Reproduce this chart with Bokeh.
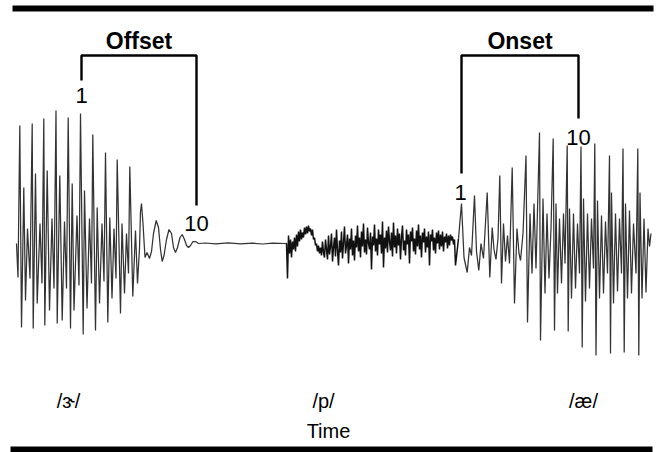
import numpy as np
from bokeh.plotting import figure
from bokeh.models import Range1d, Label, BoxAnnotation
from bokeh.embed import file_html
from bokeh.resources import INLINE

# ---- waveform data (time in px-like units, amplitude relative to baseline) ----
# vowel /ɝ/ with offset decay
vowel1_t = [16, 17.5, 19.3, 21, 23.3, 25, 27, 29.5,
            31.7, 32.7, 35, 36.7, 39.5, 41.5,
            43.3, 44.3, 46.7, 49, 51.5, 53.5,
            55.5, 56.7, 59.3, 61.7, 64, 66,
            67.7, 70, 71.7, 73.5, 76.5, 78.5,
            80, 82.7, 84, 86.5, 89, 91,
            92.3, 95, 96.7, 99, 101.5, 103.5,
            105, 107.3, 109.3, 111.5, 113.5, 115.5,
            116.7, 120, 121.5, 124, 126, 128,
            129.3, 132.3, 135, 137, 139,
            140, 141, 142.5, 144.5, 146.5, 149, 151, 153, 155.7, 158, 160, 161.7,
            163.5, 166, 168.5, 171, 173, 175, 177, 179.5, 181.7, 184, 186, 188,
            190, 192.5, 195, 198]
vowel1_a = [0, -34, 118, -84, 56, -57, 15, -35,
            120, -85, 70, -60, 20, -40,
            125, -82, 73, -67, 25, -45,
            133, -80, 68, -77, 22, -45,
            126, -85, 60, -67, 28, -42,
            130, -91, 53, -65, 25, -40,
            109, -87, 36, -60, 20, -38,
            91, -79, 26, -55, 15, -35,
            84, -70, 20, -50, 10, -30,
            77, -53, 13, -40, -5,
            32, 40, 20, -14, -9, -15, -8, 10, 23, 16, -6, -18,
            -12, 4, 14, 10, -4, -9, -4, 6, 9, 4, -2, -4,
            -2, 2, 2, 0]

# silent closure
closure_t = [205, 215, 228, 240, 252, 262, 272, 285]
closure_a = [0.5, -0.3, 0.6, -0.4, 0.3, -0.5, 0.4, 0]

# /p/ burst + aspiration noise, one sample per time unit from burst_start
burst_start = 286
burst_a = [0, -35, 8, -10, 4, -14, 2, -6, 6, -8,
           9, -3, 12, 2, 14, 4, 11, 6, 16, 9,
           17, 10, 18, 12, 15, 8, 14, 4, 6, -2,
           0, -8, -2, -10, -4, -12, 2, -9, -14, 4,
           -6, -16, 8, -11, -3, 10, -18, -4, 6, -13,
           14, -7, -22, 3, -9, 12, -15, 1, 17, -10,
           -2, 9, -20, 5, -6, 15, -12, 3, -17, 8,
           -4, 18, -8, 6, -14, 12, -3, 20, -9, 4,
           -11, 16, 0, -6, 11, -26, 7, -2, 19, -8,
           5, -12, 14, -1, 9, -10, 22, -24, 6, -5,
           13, -9, 17, 2, -7, 11, -13, 21, -4, 8,
           -10, 15, -2, 10, -16, 6, 18, -7, 3, -12,
           14, -1, 9, -20, 12, 2, 16, -8, 5, -11,
           13, -3, 19, -6, 8, -14, 11, 1, 15, -9,
           7, -4, 12, -22, 9, 2, 14, -7, 6, -10,
           11, 0, 13, -6, 9, -3, 12, -8, 7, 1,
           10, -5, 8, -2, 9, 3, 7, -1, 4, -22]

# vowel /æ/ with onset growth
vowel2_t = [458, 461, 463.5, 466.7, 469, 471,
            474, 476, 478.3, 480.5, 483,
            486.7, 489.3, 491.7, 493.5, 495.5, 497.5,
            499.3, 501, 503, 505, 507, 509,
            511.7, 514, 516.5, 518.5, 520, 522.5,
            525.5, 527, 529.5, 531.5, 533.5, 535.5,
            539, 540, 542.5, 544.5, 546.5, 548.5, 550.5,
            552.7, 554, 555.5, 557, 559, 561, 563, 564.5,
            566.7, 567.7, 569, 571, 573, 575, 577, 579,
            580.5, 581.7, 583, 585, 587, 589, 591, 593,
            594.3, 595.5, 597, 599, 601, 603, 605, 607,
            609, 610, 611, 613, 615, 617, 619, 621,
            622.5, 623.7, 625, 627, 629, 631, 633, 635.5,
            637.3, 638.3, 639.5, 641.5, 643.5, 645.5, 647.5, 649, 650.5]
vowel2_a = [5, 40, -14, -29, -4, -12,
            48, -8, -27, 0, -15,
            51, -34, 16, -6, -16, 5,
            68, -40, 20, -18, 8, -20,
            76, -60, 15, -10, -17, 10,
            88, -79, 30, -30, 40, -25,
            111, -97, 45, -50, 30, -35, 15,
            105, -87, 40, -50, 25, -40, 30, -20,
            98, -88, 35, -55, 30, -45, 20, -30,
            97, -104, 45, -58, 30, -45, 25, -25,
            100, -112, 43, -55, 28, -50, 22, -30,
            88, -110, 51, -60, 30, -48, 25, -30,
            95, -109, 40, -55, 33, -50, 20, -30,
            95, -112, 51, -55, 25, -49, 15, -3, 10]

# annotations
offset_cycle_t = [81, 196]       # cycle 1 and cycle 10 of the offset
offset_tick_a = [163, 38]
onset_cycle_t = [461, 578]
onset_tick_a = [70, 125]
bracket_top_a = 188
bracket_titles = ["Offset", "Onset"]
cycle_labels = ["1", "10"]
segment_labels = ["/ɝ/", "/p/", "/æ/"]
segment_t = [68, 323, 583]
axis_title = "Time"

# ---- build ----
burst_t = list(np.arange(burst_start, burst_start + len(burst_a)))

W, H = 656, 452
p = figure(width=W, height=H, x_range=Range1d(0, W), y_range=Range1d(243 - H, 243),
           toolbar_location=None, output_backend="svg", min_border=0,
           x_axis_location=None, y_axis_location=None)
p.grid.visible = False
p.outline_line_color = None
p.background_fill_color = "white"

wave_color = "#333333"
p.line(list(vowel1_t) + list(closure_t), list(vowel1_a) + list(closure_a),
       line_color=wave_color, line_width=1.25)
p.line([closure_t[-1]] + burst_t + [vowel2_t[0]],
       [closure_a[-1]] + list(burst_a) + [vowel2_a[0]],
       line_color="#111111", line_width=1.5)
p.line(vowel2_t, vowel2_a, line_color=wave_color, line_width=1.25)

# brackets
p.multi_line(
    xs=[[offset_cycle_t[0], offset_cycle_t[0], offset_cycle_t[1], offset_cycle_t[1]],
        [onset_cycle_t[0], onset_cycle_t[0], onset_cycle_t[1], onset_cycle_t[1]]],
    ys=[[offset_tick_a[0], bracket_top_a, bracket_top_a, offset_tick_a[1]],
        [onset_tick_a[0], bracket_top_a, bracket_top_a, onset_tick_a[1]]],
    line_color="black", line_width=2.4)

FONT = "Liberation Sans"

def lab(x, y, text, size, bold=False):
    p.add_layout(Label(x=x, y=y, text=text, text_font=FONT, text_font_size=size,
                       text_font_style="bold" if bold else "normal",
                       text_align="center", text_baseline="middle", text_color="black"))

lab((offset_cycle_t[0] + offset_cycle_t[1]) / 2, 203, bracket_titles[0], "23px", True)
lab((onset_cycle_t[0] + onset_cycle_t[1]) / 2, 203, bracket_titles[1], "23px", True)
lab(offset_cycle_t[0], 148, cycle_labels[0], "22px")
lab(offset_cycle_t[1], 20, cycle_labels[1], "22px")
lab(onset_cycle_t[0] - 1, 51, cycle_labels[0], "22px")
lab(onset_cycle_t[1], 106, cycle_labels[1], "22px")
for st, sl in zip(segment_t, segment_labels):
    lab(st, -157, sl, "20px")
lab(328, -187, axis_title, "20px")

# thick rules top and bottom
p.add_layout(BoxAnnotation(left=12, right=653, bottom=232, top=238,
                           fill_color="black", fill_alpha=1, line_color=None))
p.add_layout(BoxAnnotation(left=10, right=652, bottom=-209, top=-203,
                           fill_color="black", fill_alpha=1, line_color=None))

open("out.html", "w").write(file_html(p, INLINE, "waveform"))
